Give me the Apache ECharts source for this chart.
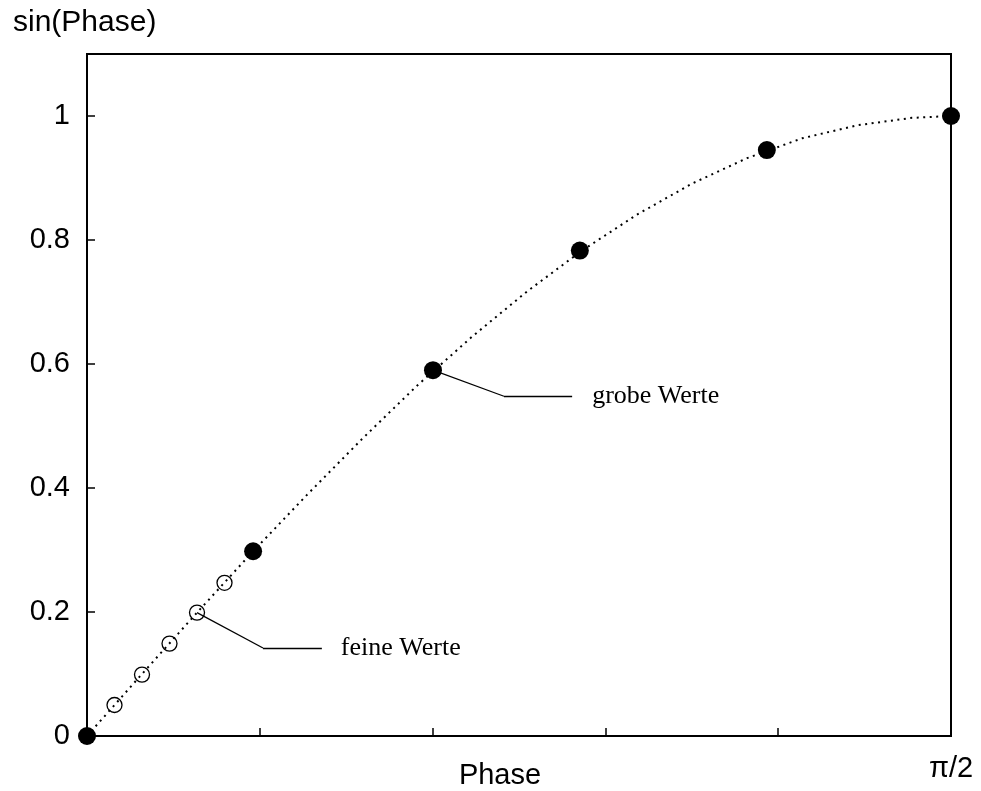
<!DOCTYPE html>
<html><head><meta charset="utf-8">
<script src="https://cdn.jsdelivr.net/npm/echarts@6/dist/echarts.min.js"></script>
<style>html,body{margin:0;padding:0;background:#fff}#c{width:981px;height:791px}</style>
</head><body><div id="c"></div>
<script>
// dotted reference curve
const curvePhase = [0, 0.1, 0.2, 0.3, 0.4, 0.5, 0.6, 0.7, 0.8, 0.9, 1.0, 1.1, 1.2, 1.3, 1.4, 1.5, 1.5708];
const curveSin   = [0, 0.100, 0.199, 0.296, 0.389, 0.479, 0.565, 0.644, 0.717, 0.783, 0.841, 0.891, 0.932, 0.964, 0.985, 0.997, 1.0];
// coarse values (filled dots)
const coarsePhase = [0, 0.302, 0.629, 0.896, 1.236, 1.5708];
const coarseSin   = [0, 0.298, 0.590, 0.783, 0.945, 1.0];
// fine values (open circles)
const finePhase = [0.05, 0.10, 0.15, 0.20, 0.25];
const fineSin   = [0.050, 0.099, 0.149, 0.199, 0.247];
// tick labels
const yTickLabels = ['0', '0.2', '0.4', '0.6', '0.8', '1'];
const xEndLabel = 'π/2';
// annotations
const coarseNote = 'grobe Werte';
const fineNote = 'feine Werte';

const zip = (a, b) => a.map((v, i) => [v, b[i]]);
const sans = 'Liberation Sans, Arial, sans-serif';
const serif = 'Liberation Serif, Times New Roman, serif';

const chart = echarts.init(document.getElementById('c'), null, {renderer: 'canvas'});
chart.setOption({
  backgroundColor: '#fff',
  animation: false,
  title: {
    text: 'sin(Phase)', left: 8, top: 3,
    textStyle: {fontFamily: sans, fontSize: 30, fontWeight: 'normal', color: '#000'}
  },
  grid: {left: 87, right: 30, top: 54, bottom: 55, show: true, borderColor: '#000', borderWidth: 2,
         backgroundColor: 'transparent', containLabel: false, outerBoundsMode: 'none'},
  xAxis: {
    type: 'value', min: 0, max: Math.PI / 2, interval: Math.PI / 10,
    name: 'Phase', nameLocation: 'middle', nameGap: 25, nameMoveOverlap: false,
    nameTextStyle: {fontFamily: sans, fontSize: 29, color: '#000', verticalAlign: 'top', padding: [0, 38, 0, 0]},
    axisLine: {show: true, onZero: false, lineStyle: {color: '#000', width: 2}},
    axisTick: {show: true, inside: true, length: 8, lineStyle: {color: '#000', width: 1.5}},
    splitLine: {show: false},
    axisLabel: {
      showMaxLabel: true, showMinLabel: true, margin: 18,
      fontFamily: sans, fontSize: 29, color: '#000',
      formatter: v => Math.abs(v - Math.PI / 2) < 1e-3 ? xEndLabel : ''
    }
  },
  yAxis: {
    type: 'value', min: 0, max: 1.1, interval: 0.2,
    axisLine: {show: true, onZero: false, lineStyle: {color: '#000', width: 2}},
    axisTick: {show: true, inside: true, length: 8, lineStyle: {color: '#000', width: 1.5}},
    splitLine: {show: false},
    axisLabel: {
      margin: 17, fontFamily: sans, fontSize: 29, color: '#000',
      formatter: v => v <= 1.0001 ? yTickLabels[Math.round(v / 0.2)] : ''
    }
  },
  series: [
    {
      type: 'line', data: zip(curvePhase, curveSin), showSymbol: false, symbol: 'none',
      lineStyle: {color: '#000', width: 2, type: [2, 4.5]}, z: 2, silent: true,
      markLine: {
        silent: true, symbol: 'none', animation: false,
        lineStyle: {color: '#000', width: 1.3, type: 'solid'},
        label: {show: false},
        data: [
          [{coord: [0.629, 0.590]}, {coord: [0.758, 0.548]}],
          [{coord: [0.758, 0.548], label: {show: true, position: 'end', formatter: coarseNote, distance: 20,
              fontFamily: serif, fontSize: 26, color: '#000', padding: [0, 0, 6, 0]}},
           {coord: [0.882, 0.548]}],
          [{coord: [0.200, 0.199]}, {coord: [0.320, 0.142]}],
          [{coord: [0.320, 0.142], label: {show: true, position: 'end', formatter: fineNote, distance: 19,
              fontFamily: serif, fontSize: 26, color: '#000', padding: [0, 0, 12, 0]}},
           {coord: [0.427, 0.142]}]
        ]
      }
    },
    {
      type: 'scatter', data: zip(finePhase, fineSin), symbol: 'circle', symbolSize: 15, clip: false,
      itemStyle: {color: 'transparent', borderColor: '#000', borderWidth: 1.3, opacity: 1}, z: 3
    },
    {
      type: 'scatter', data: zip(coarsePhase, coarseSin), symbol: 'circle', symbolSize: 18, clip: false,
      itemStyle: {color: '#000', opacity: 1}, z: 4
    }
  ]
});
</script></body></html>
